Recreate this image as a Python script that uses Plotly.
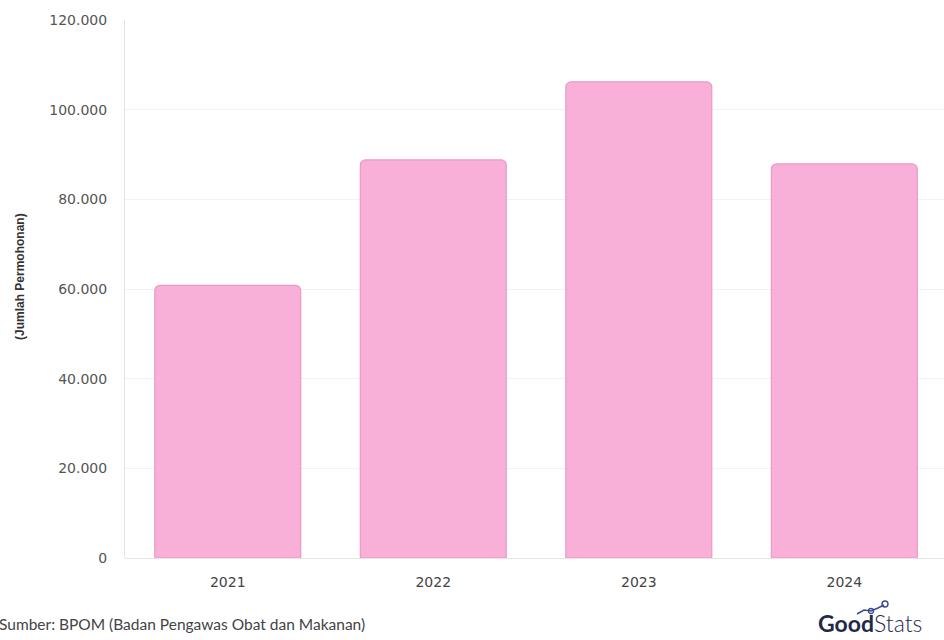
import plotly.graph_objects as go

years = ["2021", "2022", "2023", "2024"]
permohonan = [60800, 88800, 106200, 87900]
y_ticks = [0, 20000, 40000, 60000, 80000, 100000, 120000]
y_tick_labels = ["0", "20.000", "40.000", "60.000", "80.000", "100.000", "120.000"]

fig = go.Figure()
fig.add_trace(go.Bar(
    x=years, y=permohonan,
    marker=dict(color="#F8B0D8", line=dict(color="#EC98C6", width=1.2), cornerradius=5),
    width=0.71,
    hoverinfo="x+y",
))

L, R, T, B = 125, 0, 20, 82
W, H = 944, 640
pw, ph = W - L - R, H - T - B


def px(x):
    return (x - L) / pw


def py(y):
    return (H - B - y) / ph


icon_color = "#3B4A8C"
dy = -5

fig.update_layout(
    width=W, height=H,
    margin=dict(l=L, r=R, t=T, b=B),
    paper_bgcolor="white", plot_bgcolor="white",
    showlegend=False,
    font=dict(family="DejaVu Sans, sans-serif", color="#555555"),
    xaxis=dict(
        type="category", range=[-0.5, 3.485],
        showgrid=False, showline=False, ticks="",
        ticklabelstandoff=14,
        tickfont=dict(size=14, color="#444444", family="DejaVu Sans"),
    ),
    yaxis=dict(
        range=[0, 120000], tickvals=y_ticks, ticktext=y_tick_labels,
        showgrid=True, gridcolor="#F2F2F2", gridwidth=1,
        zeroline=True, zerolinecolor="#E6E6E6", zerolinewidth=1,
        showline=True, linecolor="#E3E3E3", linewidth=1,
        ticks="", ticklabelstandoff=14,
        tickfont=dict(size=14, color="#555555", family="DejaVu Sans"),
    ),
    annotations=[
        dict(text="<b>(Jumlah Permohonan)</b>", xref="paper", yref="paper",
             x=px(20), y=py(277), xanchor="center", yanchor="middle", textangle=-90,
             showarrow=False,
             font=dict(size=12, color="#333333", family="Liberation Sans, Arial")),
        dict(text="Sumber: BPOM (Badan Pengawas Obat dan Makanan)", xref="paper", yref="paper",
             x=px(-3), y=py(624), xanchor="left", yanchor="middle", showarrow=False,
             font=dict(size=15.5, color="#444444", family="Lato, sans-serif")),
        dict(text="<b>Good</b><span style='font-weight:300'>Stats</span>", xref="paper", yref="paper",
             x=px(816), y=py(623), xanchor="left", yanchor="middle", showarrow=False,
             font=dict(size=23, color="#1F2A4A", family="Lato, sans-serif")),
    ],
    shapes=[
        dict(type="path", xref="paper", yref="paper",
             path=(f"M {px(857)},{py(619 + dy)} L {px(864)},{py(615 + dy)} L {px(871)},{py(616 + dy)} "
                   f"L {px(878)},{py(613 + dy)} L {px(884)},{py(610 + dy)}"),
             line=dict(color=icon_color, width=1.5)),
        dict(type="circle", xref="paper", yref="paper",
             x0=px(882), x1=px(888), y0=py(612 + dy), y1=py(606 + dy),
             line=dict(color=icon_color, width=1.4)),
        dict(type="circle", xref="paper", yref="paper",
             x0=px(868.5), x1=px(873.5), y0=py(618.5 + dy), y1=py(613.5 + dy),
             line=dict(color=icon_color, width=1.3)),
    ],
)

fig.write_html("out.html")
